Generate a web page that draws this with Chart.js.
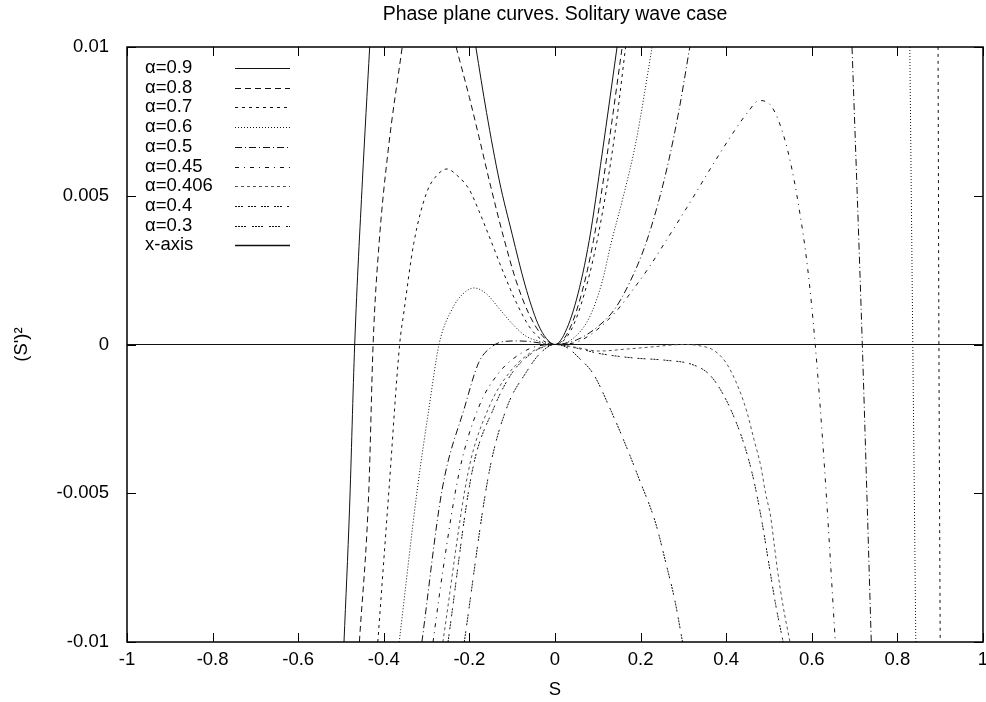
<!DOCTYPE html>
<html>
<head>
<meta charset="utf-8">
<script src="https://cdn.jsdelivr.net/npm/chart.js@4/dist/chart.umd.min.js"></script>
<style>
  html, body { margin: 0; padding: 0; background: #fff; }
</style>
</head>
<body>
<canvas id="c" width="986" height="702"></canvas>
<script>
// axis ticks
const xTicks = [-1, -0.8, -0.6, -0.4, -0.2, 0, 0.2, 0.4, 0.6, 0.8, 1];
const xTickLabels = ['-1', '-0.8', '-0.6', '-0.4', '-0.2', '0', '0.2', '0.4', '0.6', '0.8', '1'];
const yTicks = [-0.01, -0.005, 0, 0.005, 0.01];
const yTickLabels = ['-0.01', '-0.005', '0', '0.005', '0.01'];

// curves (S, (S')^2); null splits a curve into branches
const s09 = [-0.493, -0.48, -0.468, -0.45, -0.433, null, -0.185, -0.16, -0.13, -0.1, -0.07, -0.04, -0.02, 0, 0.02, 0.05, 0.08, 0.11, 0.145];
const v09 = [-0.01, -0.0055, 0, 0.0055, 0.01, null, 0.01, 0.0078, 0.0055, 0.0037, 0.002, 0.0007, 0.0002, 0, 0.0003, 0.0015, 0.0035, 0.0064, 0.01];

const s08 = [-0.457, -0.435, -0.425, -0.411, -0.39, -0.357, null, -0.231, -0.2, -0.178, -0.15, -0.12, -0.09, -0.06, -0.03, 0, 0.03, 0.06, 0.09, 0.12, 0.157];
const v08 = [-0.01, -0.0049, 0, 0.0034, 0.0065, 0.01, null, 0.01, 0.0083, 0.007, 0.0053, 0.0036, 0.0021, 0.001, 0.0003, 0, 0.0004, 0.0016, 0.0035, 0.0062, 0.01];

const s07 = [-0.414, -0.388, -0.363, -0.353, -0.33, -0.3, -0.275, -0.252, -0.23, -0.2, -0.178, -0.15, -0.12, -0.09, -0.06, -0.03, 0, 0.03, 0.06, 0.1, 0.14, 0.165, null, 0.895, 0.897, 0.9];
const v07 = [-0.01, -0.0049, 0, 0.0011, 0.0034, 0.0051, 0.0057, 0.0059, 0.0057, 0.0052, 0.0045, 0.0035, 0.0024, 0.0014, 0.0006, 0.00015, 0, 0.0003, 0.0013, 0.0036, 0.0071, 0.01, null, 0.01, 0, -0.01];

const s06 = [-0.364, -0.322, -0.294, -0.271, -0.24, -0.215, -0.189, -0.16, -0.13, -0.1, -0.07, -0.04, 0, 0.04, 0.08, 0.11, 0.131, 0.16, 0.189, 0.227, null, 0.829, 0.836, 0.843];
const v06 = [-0.01, -0.0049, -0.0021, 0, 0.0012, 0.0017, 0.0019, 0.0017, 0.0012, 0.0007, 0.0003, 0.00012, 0, 0.00018, 0.0009, 0.0021, 0.0034, 0.005, 0.0068, 0.01, null, 0.01, 0, -0.01];

const s05 = [-0.311, -0.264, -0.211, -0.178, -0.15, -0.12, -0.09, -0.06, -0.03, 0, 0.05, 0.1, 0.14, 0.175, 0.21, 0.24, 0.266, 0.29, 0.315, null, 0.694, 0.718, 0.739];
const v05 = [-0.01, -0.0049, -0.0021, -0.0006, -0.0001, 0.0001, 0.00012, 0.0001, 0.00004, 0, 0.00015, 0.0006, 0.0012, 0.0021, 0.0033, 0.0047, 0.0062, 0.0079, 0.01, null, 0.01, 0, -0.01];

const s045 = [-0.285, -0.263, -0.224, -0.178, -0.131, -0.08, -0.04, 0, 0.04, 0.08, 0.142, 0.18, 0.22, 0.26, 0.308, 0.367, 0.42, 0.45, 0.477, 0.5, 0.523, 0.549, 0.57, 0.59, 0.608, 0.63, 0.655];
const v045 = [-0.01, -0.0077, -0.0043, -0.0021, -0.00095, -0.0003, -0.00005, 0, 0.00004, 0.0003, 0.0011, 0.0018, 0.0026, 0.0035, 0.0046, 0.006, 0.0072, 0.0078, 0.0082, 0.0081, 0.0075, 0.0062, 0.0046, 0.0026, 0, -0.0042, -0.01];

const s0406 = [-0.262, -0.203, -0.154, -0.107, -0.06, -0.03, 0, 0.05, 0.103, 0.17, 0.235, 0.28, 0.31, 0.34, 0.368, 0.399, 0.43, 0.449, 0.465, 0.481, 0.492, 0.504, 0.512, 0.52, 0.533, 0.549];
const v0406 = [-0.01, -0.0043, -0.0021, -0.00095, -0.0003, -0.00008, 0, -0.0001, -0.00022, -0.00015, -0.00007, -0.00001, 0, -0.00005, -0.00017, -0.0006, -0.0015, -0.0023, -0.0032, -0.0041, -0.005, -0.0058, -0.0067, -0.0076, -0.0088, -0.01];

const s04 = [-0.25, -0.194, -0.142, -0.1, -0.055, -0.03, 0, 0.05, 0.103, 0.181, 0.259, 0.32, 0.36, 0.39, 0.42, 0.445, 0.465, 0.484, 0.5, 0.515, 0.533];
const v04 = [-0.01, -0.0043, -0.0021, -0.00095, -0.0003, -0.0001, 0, -0.00012, -0.0003, -0.00045, -0.00053, -0.00067, -0.001, -0.0016, -0.0025, -0.0035, -0.0046, -0.006, -0.0074, -0.0087, -0.01];

const s03 = [-0.212, -0.154, -0.112, -0.068, -0.035, 0, 0.03, 0.056, 0.09, 0.13, 0.16, 0.196, 0.235, 0.26, 0.28, 0.298];
const v03 = [-0.01, -0.0043, -0.0021, -0.00095, -0.0003, 0, -0.00012, -0.00045, -0.001, -0.0022, -0.0032, -0.0045, -0.006, -0.0074, -0.0086, -0.01];

const sAxis = [-1, 1];
const vAxis = [0, 0];

const series = [
  { label: 'α=0.9',   s: s09,   v: v09,   dash: [],                       w: 1 },
  { label: 'α=0.8',   s: s08,   v: v08,   dash: [6, 4],                   w: 1 },
  { label: 'α=0.7',   s: s07,   v: v07,   dash: [3, 4],                   w: 1 },
  { label: 'α=0.6',   s: s06,   v: v06,   dash: [1, 2],                   w: 1 },
  { label: 'α=0.5',   s: s05,   v: v05,   dash: [7, 3, 1, 3],             w: 1 },
  { label: 'α=0.45',  s: s045,  v: v045,  dash: [4, 5, 1, 5],             w: 1 },
  { label: 'α=0.406', s: s0406, v: v0406, dash: [3, 3],                   w: 1, c: '#555' },
  { label: 'α=0.4',   s: s04,   v: v04,   dash: [2, 1, 2, 1, 2, 5],       w: 1 },
  { label: 'α=0.3',   s: s03,   v: v03,   dash: [2, 1, 2, 1, 2, 1, 2, 6], w: 1 },
  { label: 'x-axis',  s: sAxis, v: vAxis, dash: [],                       w: 1, key: 1.6 }
];

function points(s, v) {
  return s.map((x, i) => ({ x: x, y: v[i] }));
}

const FONT = '"Liberation Sans", Arial, sans-serif';

// gnuplot style frame, inner ticks and key
const framePlugin = {
  id: 'frame',
  afterDatasetsDraw(chart) {
    const { ctx, chartArea: a, scales: { x, y } } = chart;
    ctx.save();
    ctx.strokeStyle = '#000';
    ctx.lineWidth = 1;
    ctx.setLineDash([]);
    ctx.beginPath();
    xTicks.forEach(t => {
      const px = Math.round(x.getPixelForValue(t)) + 0.5;
      ctx.moveTo(px, a.bottom); ctx.lineTo(px, a.bottom - 9);
      ctx.moveTo(px, a.top); ctx.lineTo(px, a.top + 9);
    });
    yTicks.forEach(t => {
      const py = Math.round(y.getPixelForValue(t)) + 0.5;
      ctx.moveTo(a.left, py); ctx.lineTo(a.left + 9, py);
      ctx.moveTo(a.right, py); ctx.lineTo(a.right - 9, py);
    });
    ctx.stroke();
    ctx.lineWidth = 1.5;
    ctx.strokeRect(a.left, a.top, a.right - a.left, a.bottom - a.top);

    // key
    ctx.font = '18.5px ' + FONT;
    ctx.fillStyle = '#000';
    ctx.textBaseline = 'middle';
    ctx.textAlign = 'left';
    chart.data.datasets.forEach((ds, i) => {
      const yy = a.top + 21 + i * 19.7;
      ctx.fillText(ds.label, a.left + 18, yy);
      ctx.beginPath();
      ctx.strokeStyle = ds.borderColor;
      ctx.lineWidth = series[i].key || ds.borderWidth;
      ctx.setLineDash(ds.borderDash);
      ctx.moveTo(a.left + 108, Math.round(yy) + 0.5);
      ctx.lineTo(a.left + 163, Math.round(yy) + 0.5);
      ctx.stroke();
    });
    ctx.restore();
  }
};

Chart.defaults.font.family = FONT;
Chart.defaults.font.size = 18.5;
Chart.defaults.color = '#000';

new Chart(document.getElementById('c'), {
  type: 'scatter',
  data: {
    datasets: series.map(sr => ({
      label: sr.label,
      data: points(sr.s, sr.v),
      showLine: true,
      borderColor: sr.c || '#111',
      borderWidth: sr.w,
      borderDash: sr.dash,
      pointRadius: 0,
      pointHoverRadius: 0,
      cubicInterpolationMode: 'monotone',
      spanGaps: false
    }))
  },
  options: {
    responsive: false,
    animation: false,
    events: [],
    layout: { padding: 0 },
    plugins: {
      legend: { display: false },
      tooltip: { enabled: false },
      title: {
        display: true,
        text: 'Phase plane curves. Solitary wave case',
        fullSize: false,
        font: { size: 19.5, weight: 'normal' },
        padding: { top: 3.3, bottom: 20.3 }
      }
    },
    scales: {
      x: {
        type: 'linear',
        min: -1, max: 1,
        afterBuildTicks: sc => { sc.ticks = xTicks.map(v => ({ value: v })); },
        afterFit: sc => { sc.height = 60; sc.paddingRight = 3; },
        ticks: { padding: 7, maxRotation: 0, autoSkip: false, callback: (v, i) => xTickLabels[i] },
        grid: { display: false, drawTicks: false },
        border: { display: false },
        title: { display: true, text: 'S', padding: { top: 0, bottom: 1 } }
      },
      y: {
        type: 'linear',
        min: -0.01, max: 0.01,
        afterBuildTicks: sc => { sc.ticks = yTicks.map(v => ({ value: v })); },
        afterFit: sc => { sc.width = 127; },
        ticks: { padding: 18, autoSkip: false, callback: (v, i) => yTickLabels[i] },
        grid: { display: false, drawTicks: false },
        border: { display: false },
        title: { display: true, text: "(S')²", padding: { top: 11, bottom: 0 } }
      }
    }
  },
  plugins: [framePlugin]
});
</script>
</body>
</html>
